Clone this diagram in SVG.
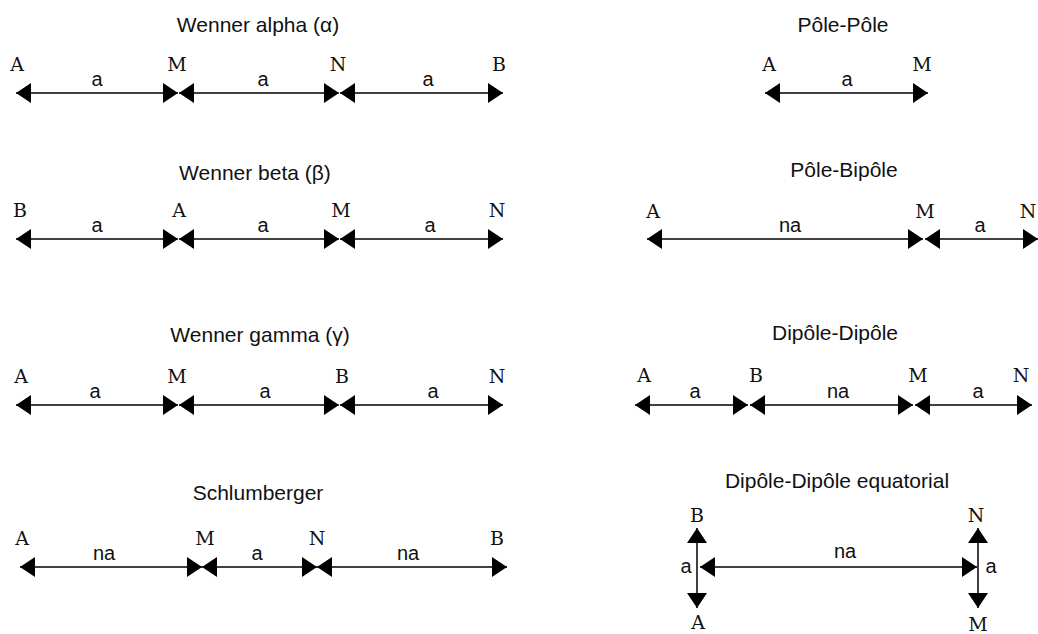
<svg xmlns="http://www.w3.org/2000/svg" width="1038" height="634" viewBox="0 0 1038 634">
<style>
.t{font-family:"Liberation Sans",Arial,sans-serif;font-size:21px;fill:#111;text-anchor:middle}
.l{font-family:"Liberation Sans",Arial,sans-serif;font-size:20px;fill:#111;text-anchor:middle}
.e{font-family:"DejaVu Serif","Liberation Serif",serif;font-size:19px;fill:#111;text-anchor:middle}
.c{stroke:#000;stroke-width:1.5;fill:none;marker-start:url(#ah);marker-end:url(#ah)}
</style>
<defs>
<marker id="ah" viewBox="0 0 15 20" refX="15" refY="10" markerWidth="15" markerHeight="20" markerUnits="userSpaceOnUse" orient="auto-start-reverse">
<path d="M0,0 L15,10 L0,20 Z" fill="#000"/>
</marker>
</defs>
<rect width="1038" height="634" fill="#fff"/>
<g id="connectors">
<path class="c" d="M16,93 H178"/>
<path class="c" d="M179,93 H339"/>
<path class="c" d="M340,93 H503"/>
<path class="c" d="M16,239 H178"/>
<path class="c" d="M179,239 H339"/>
<path class="c" d="M340,239 H503"/>
<path class="c" d="M16,405 H178"/>
<path class="c" d="M179,405 H339"/>
<path class="c" d="M340,405 H503"/>
<path class="c" d="M20,567 H202"/>
<path class="c" d="M202,567 H317"/>
<path class="c" d="M317,567 H507"/>
<path class="c" d="M765,93 H928"/>
<path class="c" d="M647,239 H923"/>
<path class="c" d="M925,239 H1038"/>
<path class="c" d="M635,405 H748"/>
<path class="c" d="M750,405 H913"/>
<path class="c" d="M915,405 H1032"/>
<path class="c" d="M700,567 H977"/>
<path class="c" d="M697,528 V608"/>
<path class="c" d="M978,528 V608"/>
</g>
<g id="wenner-alpha">
<text class="t" x="258" y="32">Wenner alpha (α)</text>
<text class="e" x="17" y="71">A</text><text class="e" x="177" y="71">M</text><text class="e" x="338" y="71">N</text><text class="e" x="499" y="71">B</text>
<text class="l" x="97" y="86">a</text><text class="l" x="263" y="86">a</text><text class="l" x="428" y="86">a</text>
</g>
<g id="wenner-beta">
<text class="t" x="255" y="180">Wenner beta (β)</text>
<text class="e" x="20" y="217">B</text><text class="e" x="179" y="217">A</text><text class="e" x="341" y="217">M</text><text class="e" x="497" y="217">N</text>
<text class="l" x="97" y="232">a</text><text class="l" x="263" y="232">a</text><text class="l" x="430" y="232">a</text>
</g>
<g id="wenner-gamma">
<text class="t" x="260" y="342">Wenner gamma (γ)</text>
<text class="e" x="21" y="383">A</text><text class="e" x="177" y="383">M</text><text class="e" x="342" y="383">B</text><text class="e" x="497" y="383">N</text>
<text class="l" x="95" y="398">a</text><text class="l" x="265" y="398">a</text><text class="l" x="433" y="398">a</text>
</g>
<g id="schlumberger">
<text class="t" x="258" y="500">Schlumberger</text>
<text class="e" x="22" y="545">A</text><text class="e" x="205" y="545">M</text><text class="e" x="317" y="545">N</text><text class="e" x="497" y="545">B</text>
<text class="l" x="104" y="560">na</text><text class="l" x="257" y="560">a</text><text class="l" x="408" y="560">na</text>
</g>
<g id="pole-pole">
<text class="t" x="843" y="32">Pôle-Pôle</text>
<text class="e" x="769" y="71">A</text><text class="e" x="922" y="71">M</text>
<text class="l" x="847" y="86">a</text>
</g>
<g id="pole-bipole">
<text class="t" x="844" y="177">Pôle-Bipôle</text>
<text class="e" x="653" y="218">A</text><text class="e" x="925" y="218">M</text><text class="e" x="1028" y="218">N</text>
<text class="l" x="790" y="232">na</text><text class="l" x="980" y="232">a</text>
</g>
<g id="dipole-dipole">
<text class="t" x="835" y="340">Dipôle-Dipôle</text>
<text class="e" x="644" y="382">A</text><text class="e" x="756" y="382">B</text><text class="e" x="918" y="382">M</text><text class="e" x="1021" y="382">N</text>
<text class="l" x="695" y="398">a</text><text class="l" x="838" y="398">na</text><text class="l" x="978" y="398">a</text>
</g>
<g id="dipole-dipole-equatorial">
<text class="t" x="837" y="488">Dipôle-Dipôle equatorial</text>
<text class="e" x="697" y="522">B</text><text class="e" x="976" y="522">N</text>
<text class="e" x="698" y="629">A</text><text class="e" x="978" y="631">M</text>
<text class="l" x="686" y="573">a</text><text class="l" x="991" y="573">a</text><text class="l" x="845" y="558">na</text>
</g>
</svg>
